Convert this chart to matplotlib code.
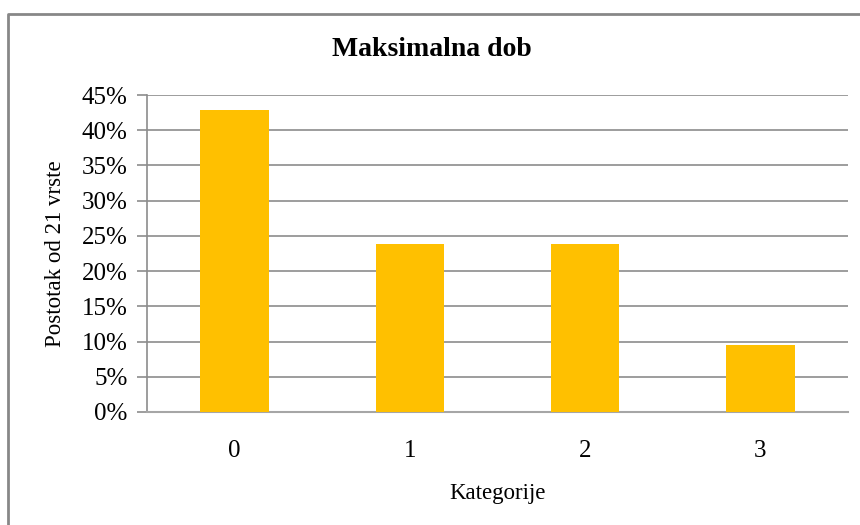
import numpy as np
import matplotlib.pyplot as plt
from matplotlib.lines import Line2D
from matplotlib.ticker import PercentFormatter

categories = ['0', '1', '2', '3']
shares = [0.429, 0.238, 0.238, 0.095]
yticks = [0, 0.05, 0.10, 0.15, 0.20, 0.25, 0.30, 0.35, 0.40, 0.45]

plt.rcParams['font.family'] = ['Liberation Serif', 'DejaVu Serif']

W, H = 860, 525
fig = plt.figure(figsize=(W / 100, H / 100), dpi=100)
ax = fig.add_axes([147 / W, 1 - 412 / H, (848 - 147) / W, (412 - 95) / H])

# chart frame (only top and left edges visible in the crop)
fig.add_artist(Line2D([8 / W, 8 / W, 1.0], [0.0, 1 - 14 / H, 1 - 14 / H],
                      transform=fig.transFigure, color='#878787', lw=2))

x = np.arange(len(categories))
ax.bar(x, shares, width=0.39, color='#FFC000', zorder=3)

ax.set_xlim(-0.5, len(categories) - 0.5)
ax.set_ylim(0, 0.45)
ax.set_yticks(yticks)
ax.yaxis.set_major_formatter(PercentFormatter(1.0, decimals=0))
ax.set_xticks(x)
ax.set_xticklabels(categories)

ax.grid(axis='y', color='#8c8c8c', lw=1.2, zorder=0)
for s in ['top', 'right']:
    ax.spines[s].set_visible(False)
ax.spines['left'].set_color('#8c8c8c')
ax.spines['bottom'].set_color('#a6a6a6')
ax.spines['left'].set_linewidth(1.2)
ax.spines['bottom'].set_linewidth(1.5)

ax.tick_params(axis='y', length=7, color='#8c8c8c', width=1.2, labelsize=18, pad=7)
ax.tick_params(axis='x', length=0, labelsize=18, pad=20)

ax.set_ylabel('Postotak od 21 vrste', fontsize=16.5)
ax.set_xlabel('Kategorije', fontsize=16.5)
ax.yaxis.set_label_coords(-0.115, 0.5)
ax.xaxis.set_label_coords(0.5, -0.224)
fig.text(432 / W, 1 - 49 / H, 'Maksimalna dob', fontsize=20, fontweight='bold',
         ha='center', va='center')

fig.savefig('out.png', dpi=100)
